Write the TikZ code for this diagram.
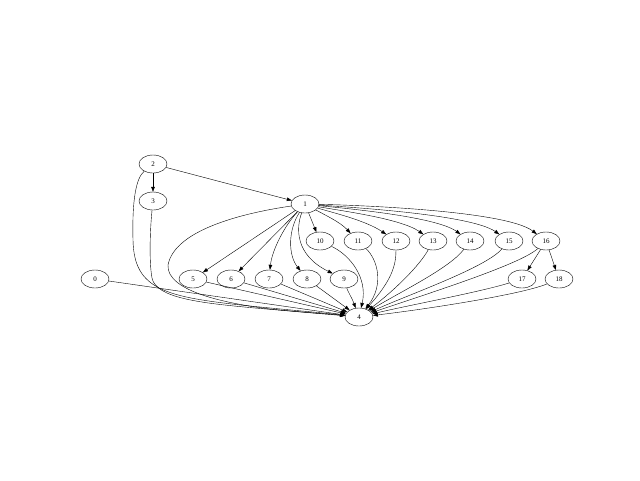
\documentclass[tikz,border=0pt]{standalone}
\usepackage{fontspec}
\setmainfont{Liberation Serif}
\usetikzlibrary{arrows.meta,shapes.geometric}
\begin{document}
\begin{tikzpicture}[x=1pt,y=-1pt,
  vtx/.style={draw,ellipse,minimum width=28pt,minimum height=18pt,inner sep=0pt,font=\fontsize{7}{7}\selectfont,line width=0.4pt},
  edge/.style={draw,line width=0.4pt,-{Triangle[length=5pt,width=3.6pt]}}]
\useasboundingbox (0,0) rectangle (640,480);
\node[vtx] (n2) at (153,164) {2};
\node[vtx] (n3) at (153,201) {3};
\node[vtx] (n1) at (305,204) {1};
\node[vtx] (n10) at (320,241) {10};
\node[vtx] (n11) at (358,241) {11};
\node[vtx] (n12) at (396,241) {12};
\node[vtx] (n13) at (433,241) {13};
\node[vtx] (n14) at (470,241) {14};
\node[vtx] (n15) at (509,241) {15};
\node[vtx] (n16) at (546,241) {16};
\node[vtx] (n0) at (95,279) {0};
\node[vtx] (n5) at (193,279) {5};
\node[vtx] (n6) at (231,279) {6};
\node[vtx] (n7) at (269,279) {7};
\node[vtx] (n8) at (307,279) {8};
\node[vtx] (n9) at (344,279) {9};
\node[vtx] (n17) at (522,279) {17};
\node[vtx] (n18) at (559,279) {18};
\node[vtx] (n4) at (359,317) {4};
% from 2
\draw[edge] (n2) -- (n3);
\draw[edge] (n2) -- (n1);
\draw[edge] (n2) .. controls (136,178) and (132,200) .. (133,240) .. controls (134,290) and (165,297) .. (250,306) .. controls (300,311) and (325,313) .. (n4);
\draw[edge] (n3) .. controls (150,230) and (149,262) .. (152,278) .. controls (156,298) and (200,303) .. (255,308) .. controls (300,312) and (325,314) .. (n4);
% from 1
\draw[edge] (n1) .. controls (250,212) and (175,228) .. (168,265) .. controls (166,292) and (230,304) .. (270,309) .. controls (310,313) and (330,314) .. (n4);
\draw[edge] (n1) -- (n5);
\draw[edge] (n1) -- (n6);
\draw[edge] (n1) .. controls (285,225) and (272,250) .. (n7);
\draw[edge] (n1) .. controls (288,230) and (288,255) .. (n8);
\draw[edge] (n1) .. controls (296,228) and (295,255) .. (n9);
\draw[edge] (n1) -- (n10);
\draw[edge] (n1) .. controls (325,215) and (340,222) .. (n11);
\draw[edge] (n1) .. controls (330,212) and (365,220) .. (n12);
\draw[edge] (n1) .. controls (335,210) and (400,218) .. (n13);
\draw[edge] (n1) .. controls (340,208) and (435,216) .. (n14);
\draw[edge] (n1) .. controls (345,207) and (470,214) .. (n15);
\draw[edge] (n1) .. controls (350,205) and (505,210) .. (n16);
% from 16
\draw[edge] (n16) -- (n17);
\draw[edge] (n16) -- (n18);
% into 4
\draw[edge] (n0) -- (n4);
\draw[edge] (n5) -- (n4);
\draw[edge] (n6) -- (n4);
\draw[edge] (n7) -- (n4);
\draw[edge] (n8) -- (n4);
\draw[edge] (n9) .. controls (348,292) and (352,298) .. (n4);
\draw[edge] (n10) .. controls (350,255) and (368,278) .. (n4);
\draw[edge] (n11) .. controls (378,260) and (384,285) .. (n4);
\draw[edge] (n12) .. controls (396,265) and (392,280) .. (n4);
\draw[edge] (n13) .. controls (420,265) and (395,290) .. (n4);
\draw[edge] (n14) .. controls (450,268) and (400,292) .. (n4);
\draw[edge] (n15) .. controls (485,268) and (410,294) .. (n4);
\draw[edge] (n16) .. controls (520,265) and (420,296) .. (n4);
\draw[edge] (n17) .. controls (480,292) and (410,305) .. (n4);
\draw[edge] (n18) .. controls (520,295) and (420,310) .. (n4);
\end{tikzpicture}
\end{document}
